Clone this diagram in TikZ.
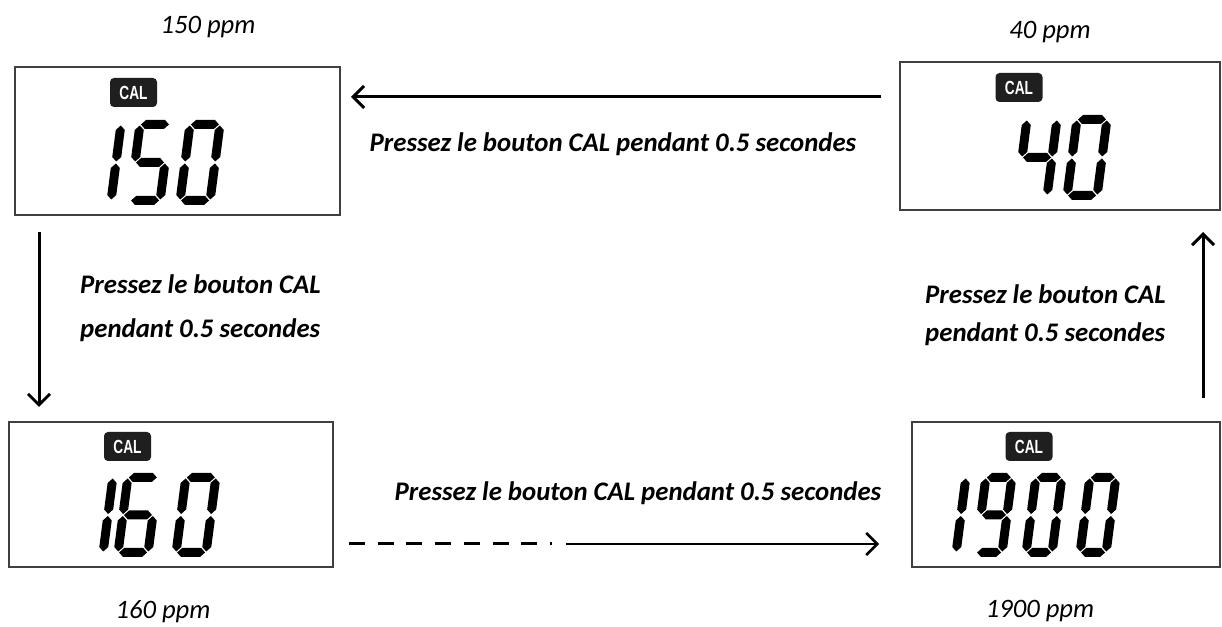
\documentclass[tikz,border=0pt]{standalone}
\usepackage{fontspec}
\usepackage{graphicx}
\setmainfont{Carlito}
\newfontfamily\calfont{Liberation Sans}
\usetikzlibrary{arrows.meta}

% seven-segment geometry (1 unit = 1 px of the reference)
\def\sW{37}\def\sT{9}\def\sGap{1}\def\sH{85}
\newcommand\hsg[1]{\fill ({\sT/2+\sGap},{#1}) -- ({\sT+\sGap},{#1+\sT/2}) -- ({\sW-\sT-\sGap},{#1+\sT/2}) -- ({\sW-\sT/2-\sGap},{#1}) -- ({\sW-\sT-\sGap},{#1-\sT/2}) -- ({\sT+\sGap},{#1-\sT/2}) -- cycle;}
\newcommand\vsg[3]{\fill ({#1},{#2}) -- ({#1+\sT/2},{#2+\sT/2}) -- ({#1+\sT/2},{#3-\sT/2}) -- ({#1},{#3}) -- ({#1-\sT/2},{#3-\sT/2}) -- ({#1-\sT/2},{#2+\sT/2}) -- cycle;}
\newcommand\segA{\hsg{\sH-\sT/2}}
\newcommand\segD{\hsg{\sT/2}}
\newcommand\segM{\hsg{\sH/2}}
\newcommand\segF{\vsg{\sT/2}{\sH/2+\sGap}{\sH-\sT/2-\sGap}}
\newcommand\segB{\vsg{\sW-\sT/2}{\sH/2+\sGap}{\sH-\sT/2-\sGap}}
\newcommand\segE{\vsg{\sT/2}{\sT/2+\sGap}{\sH/2-\sGap}}
\newcommand\segC{\vsg{\sW-\sT/2}{\sT/2+\sGap}{\sH/2-\sGap}}
\newcommand\dZero{\segA\segB\segC\segD\segE\segF}
\newcommand\dOne{\segB\segC}
\newcommand\dFour{\segF\segM\segB\segC}
\newcommand\dFive{\segA\segF\segM\segC\segD}
\newcommand\dSix{\segA\segF\segM\segE\segC\segD}
\newcommand\dNine{\segA\segB\segF\segM\segC\segD}
\newcommand\lcd[3]{\begin{scope}[shift={(#1,#2)},xslant=0.13]#3\end{scope}}

\tikzset{
  lcdbox/.style={draw=black!75, line width=1.4pt, fill=white},
  calbadge/.style={fill=black!88, rounded corners=4pt, minimum width=47pt, minimum height=29pt,
    inner sep=0pt, text=white, font=\calfont\bfseries\fontsize{19}{19}\selectfont},
  msg/.style={font=\bfseries\itshape\fontsize{26.8}{32}\selectfont, inner sep=0pt},
  ppm/.style={font=\itshape\fontsize{26.6}{32}\selectfont, inner sep=0pt},
  flow/.style={line width=3pt, -{Straight Barb[length=11pt,width=22pt]}},
}

\begin{document}
\begin{tikzpicture}[x=1pt,y=1pt]
\useasboundingbox (0,0) rectangle (1222,626);

% boxes
\draw[lcdbox] (15,411) rectangle (340,559);
\draw[lcdbox] (900,416) rectangle (1220,564);
\draw[lcdbox] (9,59) rectangle (333,204);
\draw[lcdbox] (912,59) rectangle (1220,204);

% CAL badges
\node[calbadge] (calA) at (133.5,533.5) {\scalebox{0.72}[1]{CAL}};
\node[calbadge] (calB) at (1019,538.5) {\scalebox{0.72}[1]{CAL}};
\node[calbadge] (calC) at (127.5,179.5) {\scalebox{0.72}[1]{CAL}};
\node[calbadge] (calD) at (1029,179.5) {\scalebox{0.72}[1]{CAL}};

% digits box A: 150
\def\sW{39}
\lcd{76}{421}{\dOne}
\lcd{125}{421}{\dFive}
\lcd{175}{421}{\dZero}
% digits box B: 40
\lcd{1012}{426}{\dFour}
\lcd{1062}{426}{\dZero}
% digits box C: 160
\def\sW{39}\def\sH{84}
\lcd{68}{69}{\dOne}
\lcd{113}{69}{\dSix}
\lcd{171}{69}{\dZero}
% digits box D: 1900
\def\sW{35}
\lcd{925}{69}{\dOne}
\lcd{971}{69}{\dNine}
\lcd{1021}{69}{\dZero}
\lcd{1075}{69}{\dZero}

% ppm labels
\node[ppm] (pA) at (208,599) {150 ppm};
\node[ppm] (pB) at (1050,594) {40 ppm};
\node[ppm] (pC) at (163,14) {160 ppm};
\node[ppm] (pD) at (1040,15) {1900 ppm};

% messages
\node[msg] (mTop) at (613,482) {Pressez le bouton CAL pendant 0.5 secondes};
\node[msg] (mBot) at (638,133) {Pressez le bouton CAL pendant 0.5 secondes};
\node[msg, anchor=west, align=left] (mLeft) at (80,318) {Pressez le bouton CAL\\[12pt]pendant 0.5 secondes};
\node[msg, anchor=west, align=left] (mRight) at (925,311) {Pressez le bouton CAL\\[6pt]pendant 0.5 secondes};

% connectors
\coordinate (t1) at (881,529);
\coordinate (t2) at (351,529);
\coordinate (l1) at (39,394);
\coordinate (l2) at (39,219);
\coordinate (r1) at (1203,228);
\coordinate (r2) at (1203,394);
\coordinate (b1) at (349,82);
\coordinate (b2) at (552,82);
\coordinate (b3) at (566,82);
\coordinate (b4) at (879,82);
\draw[flow] (t1) -- (t2);
\draw[flow] (l1) -- (l2);
\draw[flow] (r1) -- (r2);
\draw[line width=3pt, dash pattern=on 16pt off 12.7pt] (b1) -- (b2);
\draw[flow, line width=2.6pt] (b3) -- (b4);
\end{tikzpicture}
\end{document}
